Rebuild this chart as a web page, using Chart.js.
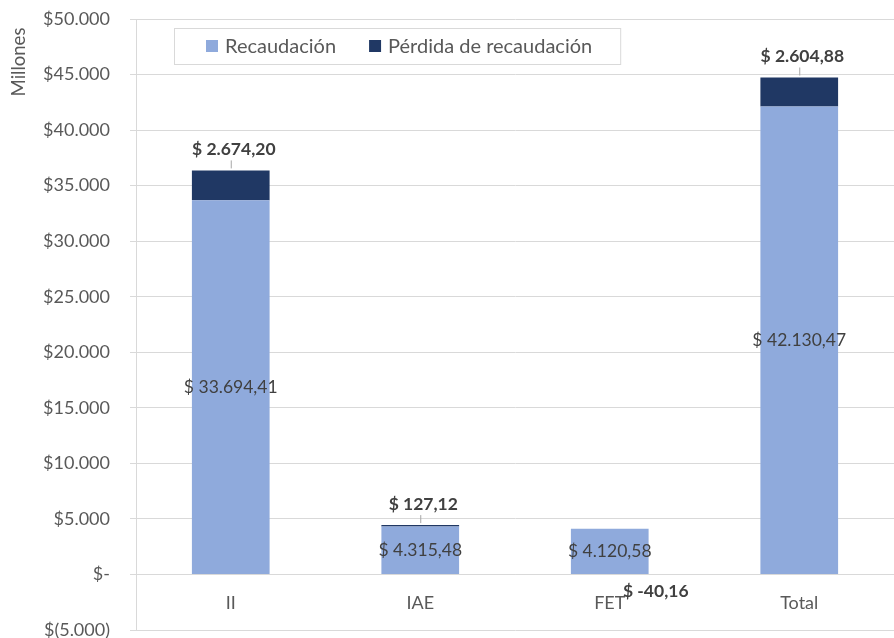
<!DOCTYPE html>
<html lang="es">
<head>
<meta charset="utf-8">
<title>Recaudación</title>
<script src="https://cdn.jsdelivr.net/npm/chart.js@4"></script>
<style>
  body { margin: 0; background: #fff; }
  #caja { width: 894px; height: 638px; }
</style>
</head>
<body>
<div id="caja"><canvas id="grafico" width="894" height="638"></canvas></div>
<script>
const categorias = ["II", "IAE", "FET", "Total"];
const recaudacion = [33694.41, 4315.48, 4120.58, 42130.47];
const perdida = [2674.20, 127.12, -40.16, 2604.88];
const nombresSeries = ["Recaudación", "Pérdida de recaudación"];
const tituloY = "Millones";
const colores = ["#8FAADC", "#203864"];

const fuente = "Lato, 'Liberation Sans', sans-serif";
const gris = "#D9D9D9";
const texto = "#595959";

function miles(n) {
  return String(n).replace(/\B(?=(\d{3})+(?!\d))/g, ".");
}

function formato(v) {
  const [ent, dec] = Math.abs(v).toFixed(2).split(".");
  return "$ " + (v < 0 ? "-" : "") + miles(ent) + "," + dec;
}

function tickY(v) {
  if (v === 0) return "$-";
  if (v < 0) return "$(" + miles(-v) + ")";
  return "$" + miles(v);
}

// etiquetas de datos, leyenda y título del eje dibujados a mano, como en Excel
const etiquetas = {
  id: "etiquetas",
  afterDatasetsDraw(chart) {
    const ctx = chart.ctx;
    ctx.save();
    ctx.textAlign = "center";
    ctx.textBaseline = "middle";

    ctx.font = "17.5px " + fuente;
    ctx.fillStyle = "#404040";
    chart.getDatasetMeta(0).data.forEach((bar, i) => {
      ctx.fillText(formato(recaudacion[i]), bar.x, (bar.y + bar.base) / 2);
    });

    ctx.font = "bold 17.5px " + fuente;
    chart.getDatasetMeta(1).data.forEach((bar, i) => {
      const v = perdida[i];
      if (v >= 0) {
        const arriba = Math.min(bar.y, bar.base);
        ctx.strokeStyle = "#A6A6A6";
        ctx.lineWidth = 1;
        ctx.beginPath();
        ctx.moveTo(bar.x + 0.5, arriba - 10);
        ctx.lineTo(bar.x + 0.5, arriba - 2);
        ctx.stroke();
        ctx.fillText(formato(v), bar.x + 3, arriba - 21);
      } else {
        ctx.fillText(formato(v), bar.x + 46, Math.max(bar.y, bar.base) + 16);
      }
    });
    ctx.restore();
  },
  afterDraw(chart) {
    const ctx = chart.ctx;
    const area = chart.chartArea;
    ctx.save();

    // título del eje Y arriba a la izquierda
    ctx.save();
    ctx.font = "18.5px " + fuente;
    ctx.fillStyle = texto;
    ctx.textAlign = "center";
    ctx.textBaseline = "middle";
    ctx.translate(19, area.top + 43);
    ctx.rotate(-Math.PI / 2);
    ctx.fillText(tituloY, 0, 0);
    ctx.restore();

    ctx.font = "20px " + fuente;
    const izq = area.left + 38, arr = area.top + 9, alto = 36;
    let x = izq + 32;
    const pos = [];
    nombresSeries.forEach((n, i) => {
      pos.push(x);
      x += 12 + 7 + ctx.measureText(n).width + 33;
    });
    const ancho = x - 33 + 28 - izq;
    ctx.fillStyle = "#fff";
    ctx.fillRect(izq, arr, ancho, alto);
    ctx.strokeStyle = gris;
    ctx.lineWidth = 1;
    ctx.strokeRect(izq + 0.5, arr + 0.5, ancho, alto);
    ctx.textBaseline = "middle";
    nombresSeries.forEach((n, i) => {
      ctx.fillStyle = colores[i];
      ctx.fillRect(pos[i], arr + alto / 2 - 6, 12, 12);
      ctx.fillStyle = texto;
      ctx.fillText(n, pos[i] + 19, arr + alto / 2 + 1);
    });
    ctx.restore();
  }
};

new Chart(document.getElementById("grafico"), {
  type: "bar",
  data: {
    labels: categorias,
    datasets: [
      { label: nombresSeries[0], data: recaudacion, backgroundColor: colores[0] },
      { label: nombresSeries[1], data: perdida, backgroundColor: colores[1] }
    ]
  },
  options: {
    responsive: false,
    animation: false,
    layout: { padding: { top: 19, bottom: 8, left: 0, right: 0 } },
    datasets: { bar: { categoryPercentage: 1, barPercentage: 0.41 } },
    plugins: {
      legend: { display: false },
      tooltip: { enabled: false }
    },
    scales: {
      x: {
        stacked: true,
        position: { y: 0 },
        afterFit: s => { s.height = 0; },
        grid: { display: false, drawTicks: false },
        border: { color: gris },
        ticks: { color: texto, font: { family: fuente, size: 18 }, padding: 18 }
      },
      y: {
        stacked: true,
        min: -5000,
        max: 50000,
        afterFit: s => { s.width = 136; s.paddingTop = 0; s.paddingBottom = 0; },
        grid: { color: gris, tickLength: 6 },
        border: { color: gris },
        ticks: { stepSize: 5000, color: texto, font: { family: fuente, size: 18 }, padding: 20, callback: tickY }
      }
    }
  },
  plugins: [etiquetas]
});
</script>
</body>
</html>
